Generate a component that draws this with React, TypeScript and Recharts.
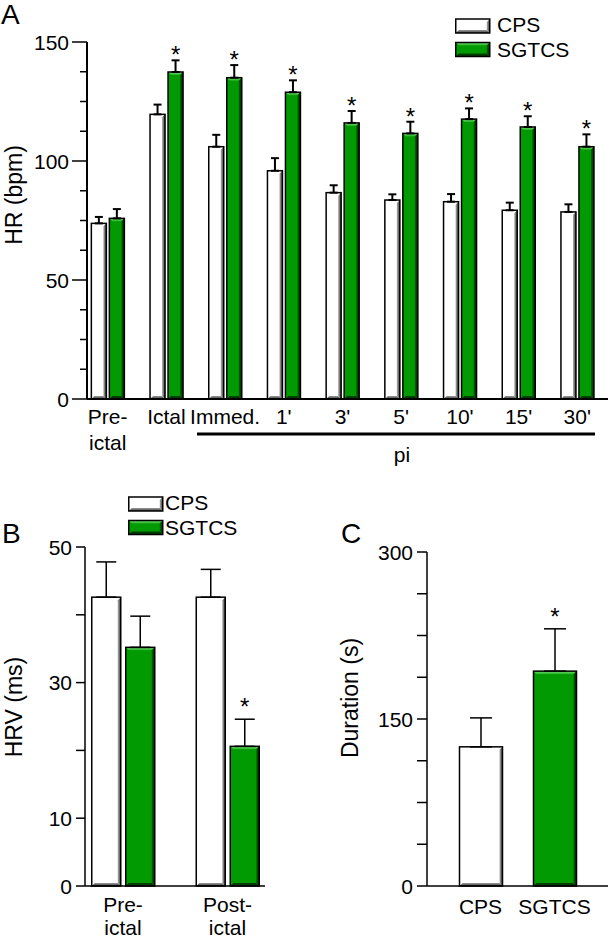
import React from "react";
import { BarChart, Bar, XAxis, YAxis, ErrorBar, LabelList, Legend } from "recharts";

const FONT = "'Liberation Sans', Arial, Helvetica, sans-serif";

// panel A: heart rate
const hrCategories = ["Pre-\nictal", "Ictal", "Immed.", "1'", "3'", "5'", "10'", "15'", "30'"];
const cpsHR = [73.8, 119.6, 106, 95.9, 86.7, 83.6, 82.9, 79.3, 78.6];
const cpsHRErr = [2.7, 4.1, 5, 5.3, 3.1, 2.4, 3.2, 3.2, 3.2];
const sgtcsHR = [75.9, 137.4, 135, 128.9, 116, 111.6, 117.6, 114.3, 106];
const sgtcsHRErr = [3.9, 4.9, 5.3, 5, 5, 4.9, 4.5, 4.5, 5.2];
const sgtcsHRStar = [false, true, true, true, true, true, true, true, true];
const hrTicks = [0, 12.5, 25, 37.5, 50, 62.5, 75, 87.5, 100, 112.5, 125, 137.5, 150];
const hrTickLabels = [0, 50, 100, 150];

// panel B: heart rate variability
const hrvCategories = ["Pre-\nictal", "Post-\nictal"];
const cpsHRV = [42.6, 42.6];
const cpsHRVErr = [5.2, 4.1];
const sgtcsHRV = [35.2, 20.6];
const sgtcsHRVErr = [4.6, 4.0];
const sgtcsHRVStar = [false, true];
const hrvTicks = [0, 10, 20, 30, 40, 50];
const hrvTickLabels = [0, 10, 30, 50];

// panel C: seizure duration
const durCategories = ["CPS", "SGTCS"];
const duration = [125, 193];
const durationErr = [26, 38];
const durationStar = [false, true];
const durTicks = [0, 37.5, 75, 112.5, 150, 187.5, 225, 262.5, 300];
const durTickLabels = [0, 150, 300];

const hrTable = hrCategories.map((name, i) => ({
  name,
  cps: cpsHR[i],
  cpsErr: [0, cpsHRErr[i]],
  sgtcs: sgtcsHR[i],
  sgtcsErr: [0, sgtcsHRErr[i]],
  star: sgtcsHRStar[i] ? 1 : 0,
}));

const hrvTable = hrvCategories.map((name, i) => ({
  name,
  cps: cpsHRV[i],
  cpsErr: [0, cpsHRVErr[i]],
  sgtcs: sgtcsHRV[i],
  sgtcsErr: [0, sgtcsHRVErr[i]],
  star: sgtcsHRVStar[i] ? 1 : 0,
}));

const durTable = durCategories.map((name, i) => ({
  name,
  kind: name.toLowerCase(),
  value: duration[i],
  err: [0, durationErr[i]],
  star: durationStar[i] ? 1 : 0,
}));

function Bevel(props: any) {
  const { x, y, width: w, height: h, kind } = props;
  if (!(w > 0) || !(h > 0)) return null;
  const s = 3;
  const right = `${x + w},${y} ${x + w},${y + h} ${x + w - s},${y + h - s} ${x + w - s},${y + s}`;
  const bottom = `${x},${y + h} ${x + w},${y + h} ${x + w - s},${y + h - s} ${x + s},${y + h - s}`;
  const top = `${x},${y} ${x + w},${y} ${x + w - s},${y + s} ${x + s},${y + s}`;
  const sw = props.sw ?? 1.5;
  if (kind === "cps") {
    return (
      <g>
        <rect x={x} y={y} width={w} height={h} fill="#ffffff" />
        <polygon points={bottom} fill="url(#cpsBottom)" />
        <polygon points={right} fill="url(#cpsRight)" />
        <rect x={x} y={y} width={w} height={h} fill="none" stroke="#000" strokeWidth={sw} />
      </g>
    );
  }
  return (
    <g>
      <rect x={x} y={y} width={w} height={h} fill="#029a02" />
      <polygon points={top} fill="url(#grTop)" />
      <polygon points={bottom} fill="#013d01" />
      <polygon points={right} fill="url(#grRight)" />
      <rect x={x} y={y} width={w} height={h} fill="none" stroke="#000" strokeWidth={sw} />
    </g>
  );
}

function makeYTick(labels: number[], majorLen: number, minorLen: number, gap: number, lw: number) {
  return (props: any) => {
    const { x, y, payload } = props;
    const v = payload.value;
    const major = labels.includes(v);
    return (
      <g>
        <line x1={x - (major ? majorLen : minorLen)} x2={x} y1={y} y2={y} stroke="#000" strokeWidth={lw} />
        {major && (
          <text x={x - gap} y={y + 7.5} textAnchor="end" fontSize={21} fontFamily={FONT} fill="#000">
            {v}
          </text>
        )}
      </g>
    );
  };
}

function makeXTick(first: number, lineH: number) {
  return (props: any) => {
    const { x, y, payload } = props;
    const lines = String(payload.value).split("\n");
    return (
      <text textAnchor="middle" fontSize={21} fontFamily={FONT} fill="#000">
        {lines.map((l, i) => (
          <tspan key={i} x={x} y={y + first + i * lineH}>
            {l}
          </tspan>
        ))}
      </text>
    );
  };
}

// star drawn above the error bar; pixels per unit taken from the bar itself
function makeStar(table: any[], valueKey: string, errKey: string, dy: number) {
  return (props: any) => {
    const { x, y, width, height, value, index } = props;
    if (!value) return null;
    const row = table[index];
    const ppu = height / row[valueKey];
    const errTop = y - row[errKey][1] * ppu;
    return (
      <text x={x + width / 2} y={errTop + dy} textAnchor="middle" fontSize={24} fontFamily={FONT} fill="#000">
        *
      </text>
    );
  };
}

function makeLegend(textX: number) {
  return () => (
    <svg width={120} height={50} style={{ display: "block" }}>
      <Bevel kind="cps" x={0.75} y={7} width={34} height={14} sw={1.5} />
      <text x={textX} y={19.5} fontSize={21} fontFamily={FONT}>CPS</text>
      <Bevel kind="sgtcs" x={0.75} y={30.5} width={34} height={14} sw={1.5} />
      <text x={textX} y={44.5} fontSize={21} fontFamily={FONT}>SGTCS</text>
    </svg>
  );
}

export default function App() {
  return (
    <div style={{ position: "absolute", left: 0, top: 0, width: 610, height: 941, background: "#fff", fontFamily: FONT }}>
      <svg width={0} height={0} style={{ position: "absolute" }}>
        <defs>
          <linearGradient id="cpsRight" x1="0" y1="0" x2="1" y2="0">
            <stop offset="0%" stopColor="#b0b0b0" />
            <stop offset="100%" stopColor="#3a3a3a" />
          </linearGradient>
          <linearGradient id="cpsBottom" x1="0" y1="0" x2="0" y2="1">
            <stop offset="0%" stopColor="#9a9a9a" />
            <stop offset="100%" stopColor="#404040" />
          </linearGradient>
          <linearGradient id="grTop" x1="0" y1="0" x2="0" y2="1">
            <stop offset="0%" stopColor="#7ae07a" />
            <stop offset="100%" stopColor="#22b022" />
          </linearGradient>
          <linearGradient id="grRight" x1="0" y1="0" x2="1" y2="0">
            <stop offset="0%" stopColor="#016a01" />
            <stop offset="100%" stopColor="#002400" />
          </linearGradient>
        </defs>
      </svg>

      {/* Panel A */}
      <div style={{ position: "absolute", left: 0, top: 0 }}>
        <BarChart width={610} height={490} data={hrTable} margin={{ top: 42, right: 2, bottom: 0, left: 0 }} barGap={3}>
          <XAxis
            dataKey="name"
            height={91}
            padding={{ left: -8.65, right: 1.35 }}
            axisLine={{ stroke: "#000", strokeWidth: 2 }}
            tickLine={false}
            tickSize={0}
            tickMargin={0}
            interval={0}
            tick={makeXTick(25, 26)}
          />
          <YAxis
            width={87}
            domain={[0, 150]}
            ticks={hrTicks}
            interval={0}
            axisLine={{ stroke: "#000", strokeWidth: 2 }}
            tickLine={false}
            tickSize={0}
            tickMargin={0}
            tick={makeYTick(hrTickLabels, 15, 7, 18, 1.5)}
          />
          <Legend
            layout="vertical"
            align="center"
            verticalAlign="middle"
            wrapperStyle={{ left: 455, top: 12, width: 120 }}
            content={makeLegend(42)}
          />
          <Bar dataKey="cps" barSize={15} isAnimationActive={false} shape={(p: any) => <Bevel {...p} kind="cps" />}>
            <ErrorBar dataKey="cpsErr" width={4} strokeWidth={2} stroke="#000" direction="y" isAnimationActive={false} />
          </Bar>
          <Bar dataKey="sgtcs" barSize={15} isAnimationActive={false} shape={(p: any) => <Bevel {...p} kind="sgtcs" />}>
            <ErrorBar dataKey="sgtcsErr" width={4} strokeWidth={2} stroke="#000" direction="y" isAnimationActive={false} />
            <LabelList dataKey="star" content={makeStar(hrTable, "sgtcs", "sgtcsErr", 3)} />
          </Bar>
        </BarChart>
      </div>

      {/* Panel B */}
      <div style={{ position: "absolute", left: 0, top: 480 }}>
        <BarChart width={300} height={461} data={hrvTable} margin={{ top: 67, right: 35, bottom: 0, left: 0 }} barGap={5}>
          <XAxis
            dataKey="name"
            height={55}
            padding={{ left: -14.25, right: -14.75 }}
            axisLine={{ stroke: "#000", strokeWidth: 1.5 }}
            tickLine={false}
            tickSize={0}
            tickMargin={0}
            interval={0}
            tick={makeXTick(26, 23)}
          />
          <YAxis
            width={85}
            domain={[0, 50]}
            ticks={hrvTicks}
            interval={0}
            axisLine={{ stroke: "#000", strokeWidth: 1.5 }}
            tickLine={false}
            tickSize={0}
            tickMargin={0}
            tick={makeYTick(hrvTickLabels, 9, 9, 13, 1.5)}
          />
          <Legend
            layout="vertical"
            align="center"
            verticalAlign="middle"
            wrapperStyle={{ left: 128, top: 10, width: 120 }}
            content={makeLegend(37)}
          />
          <Bar dataKey="cps" barSize={29} isAnimationActive={false} shape={(p: any) => <Bevel {...p} kind="cps" />}>
            <ErrorBar dataKey="cpsErr" width={10} strokeWidth={1.5} stroke="#000" direction="y" isAnimationActive={false} />
          </Bar>
          <Bar dataKey="sgtcs" barSize={29} isAnimationActive={false} shape={(p: any) => <Bevel {...p} kind="sgtcs" />}>
            <ErrorBar dataKey="sgtcsErr" width={10} strokeWidth={1.5} stroke="#000" direction="y" isAnimationActive={false} />
            <LabelList dataKey="star" content={makeStar(hrvTable, "sgtcs", "sgtcsErr", -4)} />
          </Bar>
        </BarChart>
      </div>

      {/* Panel C */}
      <div style={{ position: "absolute", left: 310, top: 480 }}>
        <BarChart width={300} height={461} data={durTable} margin={{ top: 72, right: 2, bottom: 0, left: 0 }}>
          <XAxis
            dataKey="name"
            height={55}
            padding={{ left: 16.5, right: 16.5 }}
            axisLine={{ stroke: "#000", strokeWidth: 1.5 }}
            tickLine={false}
            tickSize={0}
            tickMargin={0}
            interval={0}
            tick={makeXTick(28, 27)}
          />
          <YAxis
            width={117}
            domain={[0, 300]}
            ticks={durTicks}
            interval={0}
            axisLine={{ stroke: "#000", strokeWidth: 1.5 }}
            tickLine={false}
            tickSize={0}
            tickMargin={0}
            tick={makeYTick(durTickLabels, 10, 10, 14, 1.5)}
          />
          <Bar dataKey="value" barSize={43} isAnimationActive={false} shape={(p: any) => <Bevel {...p} kind={p.payload.kind} />}>
            <ErrorBar dataKey="err" width={11} strokeWidth={1.5} stroke="#000" direction="y" isAnimationActive={false} />
            <LabelList dataKey="star" content={makeStar(durTable, "value", "err", -4)} />
          </Bar>
        </BarChart>
      </div>

      {/* panel letters, axis titles, post-ictal bracket */}
      <svg width={610} height={941} style={{ position: "absolute", left: 0, top: 0, pointerEvents: "none" }}>
        <text x={1} y={24} fontSize={28} fontFamily={FONT}>A</text>
        <text x={2} y={543} fontSize={28} fontFamily={FONT}>B</text>
        <text x={341} y={543} fontSize={28} fontFamily={FONT}>C</text>
        <text transform="translate(22,195) rotate(-90)" textAnchor="middle" fontSize={23} fontFamily={FONT}>HR (bpm)</text>
        <text transform="translate(22,707) rotate(-90)" textAnchor="middle" fontSize={23} fontFamily={FONT}>HRV (ms)</text>
        <text transform="translate(358,698) rotate(-90)" textAnchor="middle" fontSize={23} fontFamily={FONT}>Duration (s)</text>
        <rect x={197} y={432.5} width={398} height={3} fill="#000" />
        <text x={402} y={462} textAnchor="middle" fontSize={21} fontFamily={FONT}>pi</text>
      </svg>
    </div>
  );
}
